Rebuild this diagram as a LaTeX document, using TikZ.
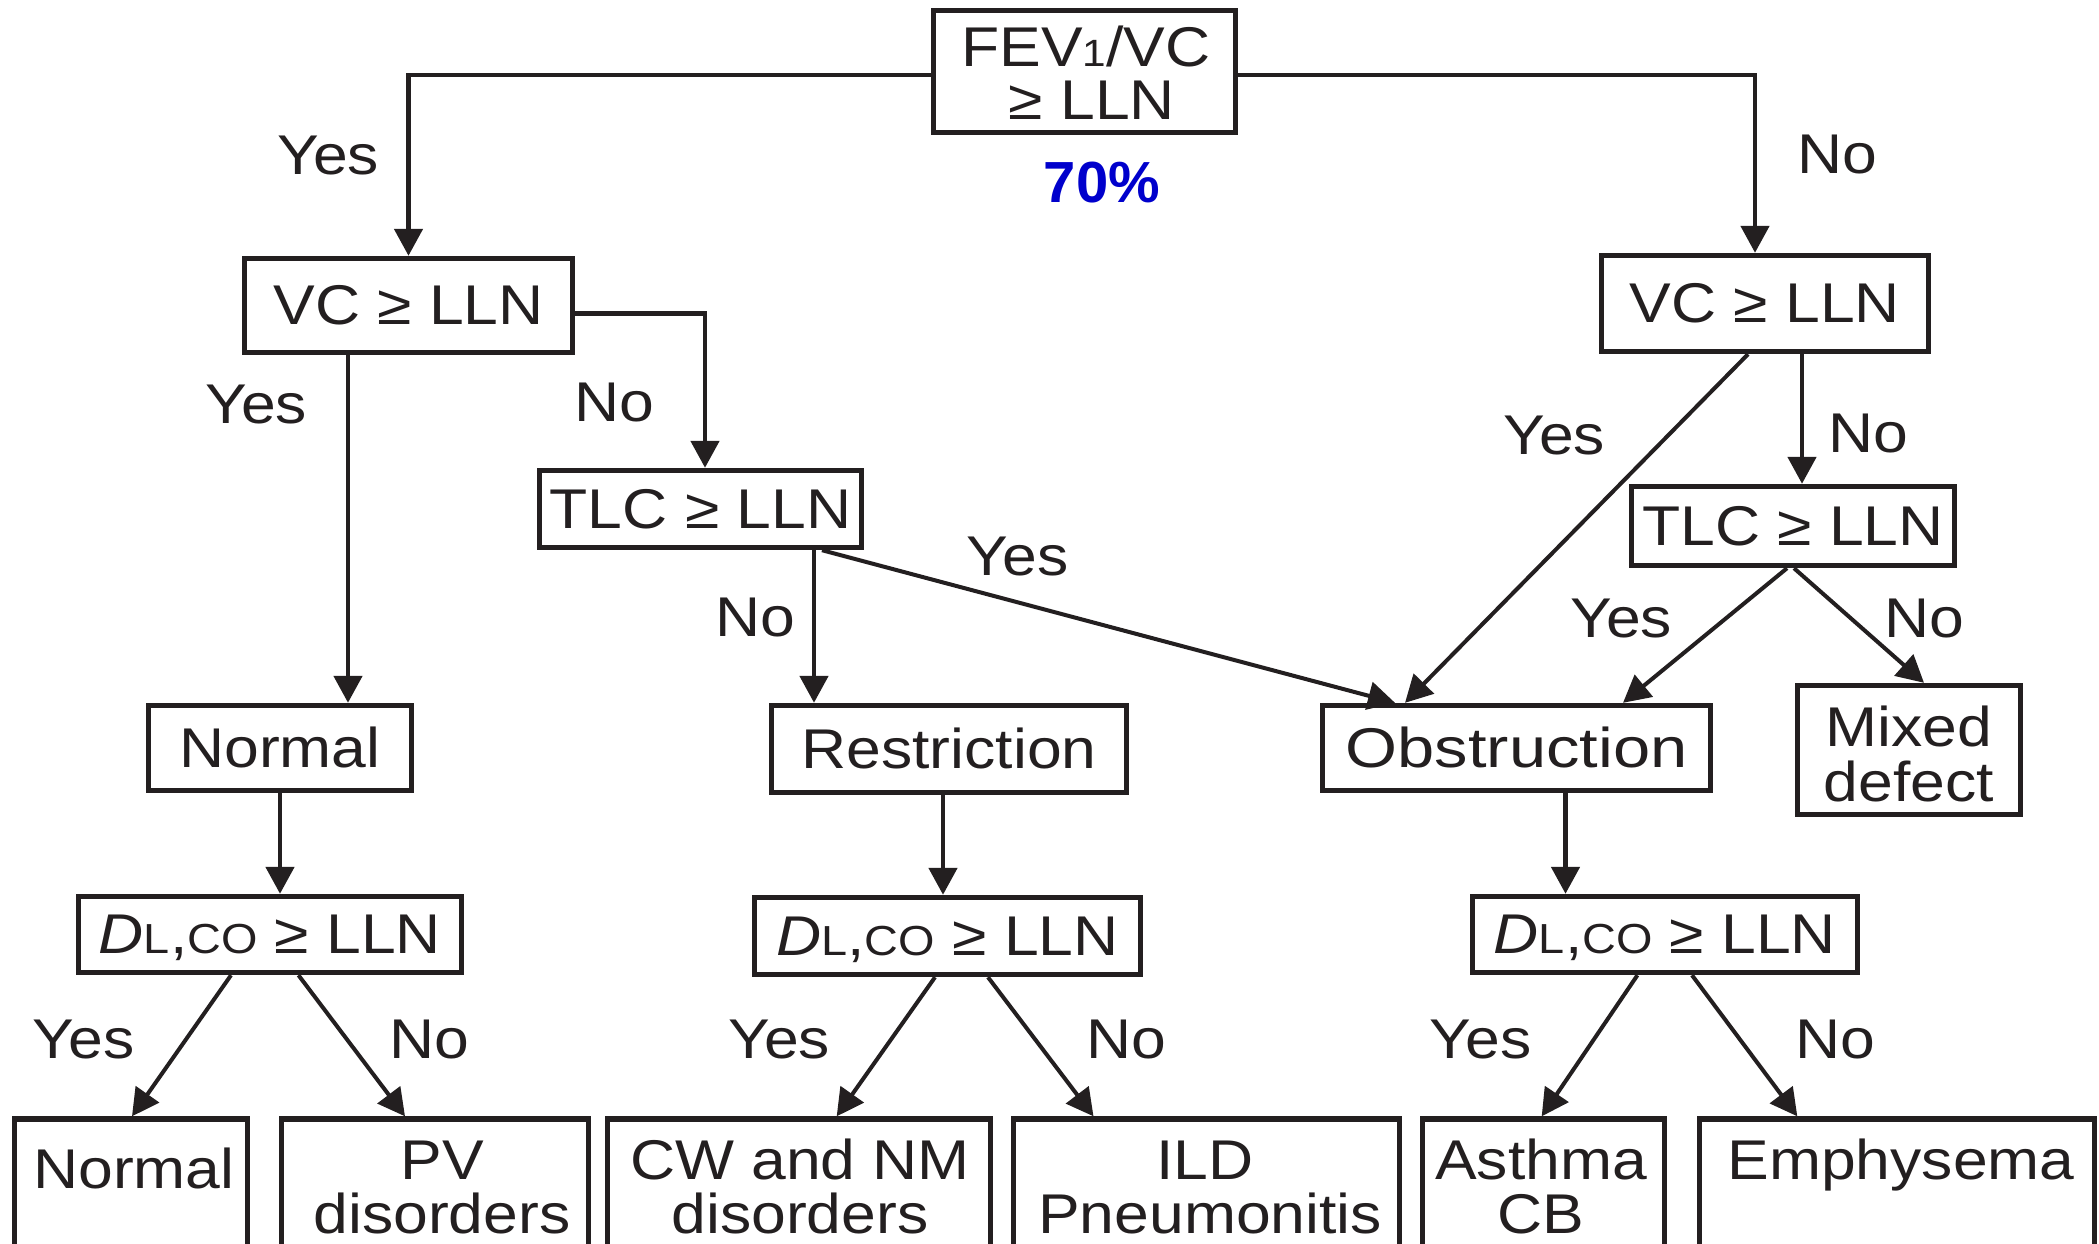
\documentclass[tikz,border=0pt]{standalone}
\usepackage{fontspec}
\setmainfont{Liberation Sans}[FakeStretch=1.115]
\newfontfamily\pctfont{Liberation Sans}
\usepackage{graphicx}
\usetikzlibrary{arrows.meta}
\definecolor{ink}{RGB}{35,31,32}
\definecolor{pctblue}{RGB}{0,0,204}
\newcommand{\smallsz}{\fontsize{21}{21}\selectfont}
\newcommand{\dlco}{\textit{D}{\smallsz L},{\smallsz CO}}
\begin{document}
\begin{tikzpicture}[x=0.5pt,y=-0.5pt,
  every node/.style={font=\fontsize{28}{30}\selectfont, text=ink},
  bx/.style={draw=ink, line width=2.7pt, inner sep=0pt, text height=19.3pt, text depth=0pt},
  lbl/.style={inner sep=0pt, text height=19.3pt, text depth=0pt},
  txtline/.style={inner sep=0pt, anchor=base},
  conn/.style={draw=ink, line width=2.4pt, -{Triangle[length=13.5pt,width=14pt]}},
  diag/.style={draw=ink, line width=2pt, -{Triangle[length=13.5pt,width=14pt]}},
]
\useasboundingbox (0,0) rectangle (2099,1243);
\fill[white] (0,0) rectangle (2099,1243);
\clip (0,0) rectangle (2099,1243);

% ---- boxes
\node[bx, minimum width=151pt, minimum height=61pt] (top) at (1084.5,71.5) {};
\node[txtline] (top1) at (1086,66) {FEV{\fontsize{19}{19}\selectfont 1}/VC};
\node[txtline] (top2) at (1092,119) {≥ LLN};
\node[inner sep=0pt, anchor=base, text=pctblue, font=\fontsize{29}{30}\pctfont\bfseries] (pct) at (1102,202) {70\%};

\node[bx, minimum width=164pt, minimum height=47pt] (vcL) at (408.5,305.5) {VC ≥ LLN};
\node[bx, minimum width=161pt, minimum height=38.5pt] (tlcL) at (700.5,509) {TLC ≥ LLN};
\node[bx, minimum width=163.5pt, minimum height=48pt] (vcR) at (1765,303.5) {VC ≥ LLN};
\node[bx, minimum width=161.5pt, minimum height=39.5pt] (tlcR) at (1793,526) {TLC ≥ LLN};

\node[bx, minimum width=131.5pt, minimum height=42.5pt] (nrm) at (280,748) {Normal};
\node[bx, minimum width=177.5pt, minimum height=43.5pt] (rst) at (949,749) {Restriction};
\node[bx, minimum width=194pt, minimum height=42.5pt] (obs) at (1516.5,748) {\scalebox{1.07}[1]{Obstruction}};
\node[bx, minimum width=111.5pt, minimum height=64.5pt] (mix) at (1909,750) {};
\node[txtline] (mix1) at (1909,746) {Mixed};
\node[txtline] (mix2) at (1909,801) {defect};

\node[bx, minimum width=191.5pt, minimum height=38pt] (dL) at (270,934.5) {\dlco{} ≥ LLN};
\node[bx, minimum width=193pt, minimum height=38.5pt] (dM) at (947.5,936) {\dlco{} ≥ LLN};
\node[bx, minimum width=192.5pt, minimum height=38pt] (dR) at (1665,934.5) {\dlco{} ≥ LLN};

\node[bx, minimum width=116.5pt, minimum height=139.5pt] (bNrm) at (131,1258.5) {};
\node[bx, minimum width=153.5pt, minimum height=139.5pt] (bPV) at (435,1258.5) {};
\node[bx, minimum width=191.5pt, minimum height=139.5pt] (bCW) at (799,1258.5) {};
\node[bx, minimum width=193pt, minimum height=139.5pt] (bILD) at (1206.5,1258.5) {};
\node[bx, minimum width=121pt, minimum height=139.5pt] (bAst) at (1543.5,1258.5) {};
\node[bx, minimum width=197.5pt, minimum height=139.5pt] (bEmp) at (1897,1258.5) {};

\node[txtline] (tNrm) at (134,1188) {Normal};
\node[txtline] (tPV1) at (442,1179) {PV};
\node[txtline] (tPV2) at (442,1233) {disorders};
\node[txtline] (tCW1) at (800,1179) {CW and NM};
\node[txtline] (tCW2) at (800,1233) {disorders};
\node[txtline] (tILD1) at (1205,1179) {ILD};
\node[txtline] (tILD2) at (1210,1233) {Pneumonitis};
\node[txtline] (tAst1) at (1541,1179) {Asthma};
\node[txtline] (tAst2) at (1541,1233) {CB};
\node[txtline] (tEmp) at (1901,1179) {Emphysema};

% ---- connectors
\draw[conn] ([shift={(0,3.5)}]top.west) -| (vcL.north);
\draw[conn] ([shift={(0,3.5)}]top.east) -| ([shift={(-10,0)}]vcR.north);
\draw[conn] ([shift={(0,8)}]vcL.east) -| ([shift={(4.5,0)}]tlcL.north);
\draw[conn] ([shift={(-60.5,0)}]vcL.south) -- ([shift={(68,0)}]nrm.north);
\draw[conn] ([shift={(113.5,0)}]tlcL.south) -- ([shift={(-135,0)}]rst.north);
\draw[diag] ([shift={(121.5,0)}]tlcL.south) -- ([shift={(-121.5,0)}]obs.north);
\draw[diag] ([shift={(-17,0)}]vcR.south) -- ([shift={(-111.5,0)}]obs.north);
\draw[conn] ([shift={(37,0)}]vcR.south) -- ([shift={(9,0)}]tlcR.north);
\draw[diag] ([shift={(-6,0)}]tlcR.south) -- ([shift={(106.5,0)}]obs.north);
\draw[diag] ([shift={(1,0)}]tlcR.south) -- ([shift={(15,0)}]mix.north);

\draw[conn] (nrm.south) -- ([shift={(10,0)}]dL.north);
\draw[conn] ([shift={(-6,0)}]rst.south) -- ([shift={(-4.5,0)}]dM.north);
\draw[conn] ([shift={(49,0)}]obs.south) -- ([shift={(-99.5,0)}]dR.north);

\draw[diag] ([shift={(-39,0)}]dL.south) -- ([shift={(1,0)}]bNrm.north);
\draw[diag] ([shift={(28.5,0)}]dL.south) -- ([shift={(-30,0)}]bPV.north);
\draw[diag] ([shift={(-12.5,0)}]dM.south) -- ([shift={(37.7,0)}]bCW.north);
\draw[diag] ([shift={(40.5,0)}]dM.south) -- ([shift={(-113,0)}]bILD.north);
\draw[diag] ([shift={(-27.6,0)}]dR.south) -- ([shift={(-1.8,0)}]bAst.north);
\draw[diag] ([shift={(27,0)}]dR.south) -- ([shift={(-99.7,0)}]bEmp.north);

% ---- labels
\node[lbl] (y1) at (328,155) {Yes};
\node[lbl] (n1) at (1837,154) {No};
\node[lbl] (y2) at (256,404) {Yes};
\node[lbl] (n2) at (614,402) {No};
\node[lbl] (n3) at (755.5,617) {No};
\node[lbl] (y3) at (1017.5,556) {Yes};
\node[lbl] (y4) at (1554,435) {Yes};
\node[lbl] (n4) at (1868,433) {No};
\node[lbl] (y5) at (1621,618) {Yes};
\node[lbl] (n5) at (1924.5,618) {No};
\node[lbl] (y6) at (83.5,1039) {Yes};
\node[lbl] (n6) at (429,1039) {No};
\node[lbl] (y7) at (779,1039) {Yes};
\node[lbl] (n7) at (1126.5,1039) {No};
\node[lbl] (y8) at (1480.5,1039) {Yes};
\node[lbl] (n8) at (1835.5,1039) {No};
\end{tikzpicture}
\end{document}
